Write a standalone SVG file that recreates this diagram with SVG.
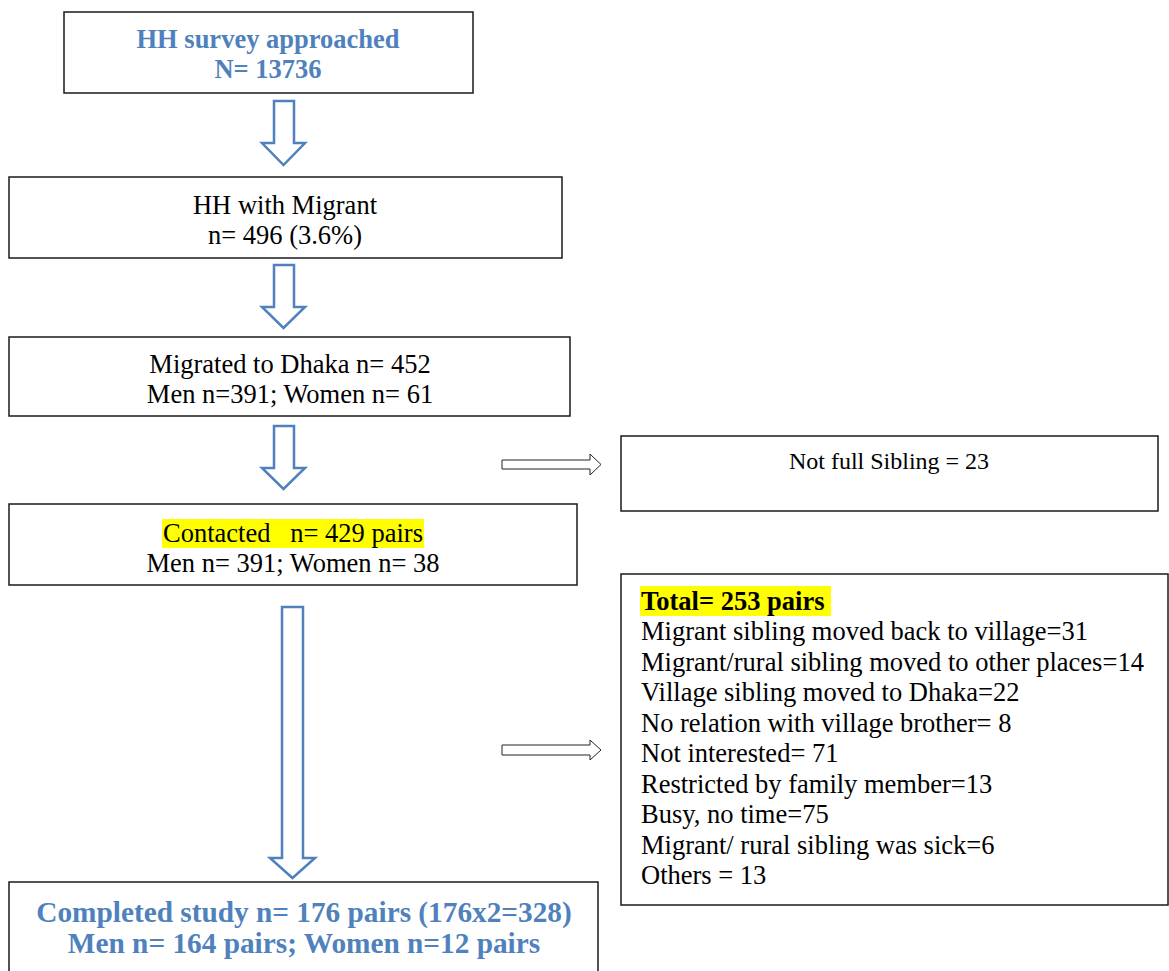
<svg xmlns="http://www.w3.org/2000/svg" width="1169" height="971" viewBox="0 0 1169 971">
  <style>
    .box { fill: #ffffff; stroke: #1a1a1a; stroke-width: 1.5; }
    .t { font-family: "Liberation Serif", "Times New Roman", serif; font-size: 26.5px; fill: #000000; white-space: pre; }
    .c { text-anchor: middle; }
    .head { font-weight: bold; fill: #4F81BD; }
    .big { font-size: 29.3px; }
    .bold { font-weight: bold; }
    .small { font-size: 24px; }
    .hl { fill: #FFFF00; }
    .down { fill: #ffffff; stroke: #4F81BD; stroke-width: 2.5; stroke-linejoin: miter; }
    .side { fill: #ffffff; stroke: #222222; stroke-width: 1; }
  </style>

  <!-- flow steps -->
  <g id="node-approached">
    <rect class="box" x="64" y="12" width="409" height="81"/>
    <text class="t c head" x="268" y="48">HH survey approached</text>
    <text class="t c head" x="268" y="78">N= 13736</text>
  </g>

  <g id="node-migrant">
    <rect class="box" x="9" y="177" width="553" height="81"/>
    <text class="t c" x="285" y="214">HH with Migrant</text>
    <text class="t c" x="285" y="244">n= 496 (3.6%)</text>
  </g>

  <g id="node-dhaka">
    <rect class="box" x="9" y="337" width="561" height="79"/>
    <text class="t c" x="290" y="373">Migrated to Dhaka n= 452</text>
    <text class="t c" x="290" y="403">Men n=391; Women n= 61</text>
  </g>

  <g id="node-contacted">
    <rect class="box" x="9" y="504" width="568" height="81"/>
    <rect class="hl" x="162" y="519" width="262" height="29"/>
    <text class="t c" x="293" y="542">Contacted   n= 429 pairs</text>
    <text class="t c" x="293" y="572">Men n= 391; Women n= 38</text>
  </g>

  <g id="node-completed">
    <rect class="box" x="9" y="882" width="589" height="100"/>
    <text class="t c head big" x="304" y="922">Completed study n= 176 pairs (176x2=328)</text>
    <text class="t c head big" x="304" y="953">Men n= 164 pairs; Women n=12 pairs</text>
  </g>

  <!-- exclusion boxes -->
  <g id="node-not-full">
    <rect class="box" x="621" y="436" width="537" height="75"/>
    <text class="t c small" x="889" y="469">Not full Sibling = 23</text>
  </g>

  <g id="node-lost">
    <rect class="box" x="621" y="574" width="547" height="331"/>
    <rect class="hl" x="640" y="586" width="191" height="30"/>
    <text class="t bold" x="641" y="610">Total= 253 pairs</text>
    <text class="t" x="641" y="640">Migrant sibling moved back to village=31</text>
    <text class="t" x="641" y="671">Migrant/rural sibling moved to other places=14</text>
    <text class="t" x="641" y="701">Village sibling moved to Dhaka=22</text>
    <text class="t" x="641" y="732">No relation with village brother= 8</text>
    <text class="t" x="641" y="762">Not interested= 71</text>
    <text class="t" x="641" y="793">Restricted by family member=13</text>
    <text class="t" x="641" y="823">Busy, no time=75</text>
    <text class="t" x="641" y="854">Migrant/ rural sibling was sick=6</text>
    <text class="t" x="641" y="884">Others = 13</text>
  </g>

  <!-- block arrows -->
  <g id="connectors">
    <polygon class="down" points="274,101 294,101 294,143 305,143 283.5,165 262,143 274,143"/>
    <polygon class="down" points="274,265 294,265 294,307 305,307 283.5,328 262,307 274,307"/>
    <polygon class="down" points="274,426 294,426 294,468 305,468 283.5,489 262,468 274,468"/>
    <polygon class="down" points="282,607 303,607 303,858 315,858 292.5,878 270,858 282,858"/>
    <polygon class="side" points="502,460 590,460 590,454 601,464.5 590,475 590,469 502,469"/>
    <polygon class="side" points="502,745 590,745 590,740 601,750 590,760 590,755 502,755"/>
  </g>
</svg>
